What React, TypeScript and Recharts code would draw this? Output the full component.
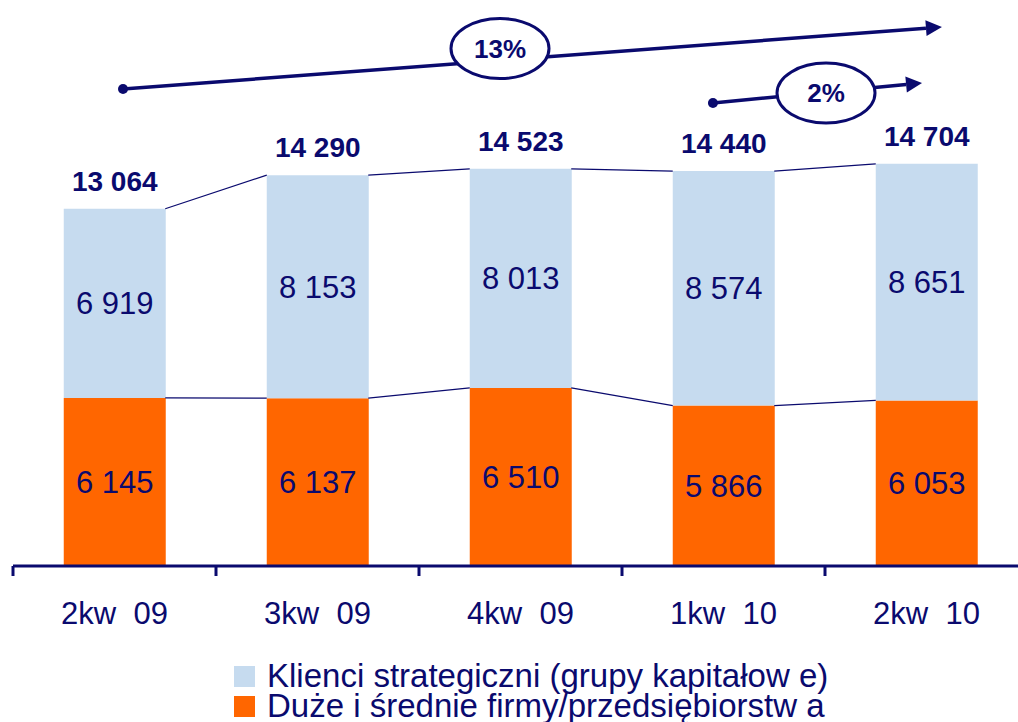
import React from 'react';
import {
  ComposedChart, Bar, Line, XAxis, YAxis, LabelList, Legend, ReferenceLine, ReferenceDot,
} from 'recharts';

// kwartały
const categories = ['2kw  09', '3kw  09', '4kw  09', '1kw  10', '2kw  10'];
// Duże i średnie firmy/przedsiębiorstwa
const duze = [6145, 6137, 6510, 5866, 6053];
// Klienci strategiczni (grupy kapitałowe)
const klienci = [6919, 8153, 8013, 8574, 8651];

const seriesNames = ['Klienci strategiczni (grupy kapitałow e)', 'Duże i średnie firmy/przedsiębiorstw a'];
const seriesColors = ['#C6DBEF', '#FF6600'];

// growth arrows: x in category units (0..5), y in chart values
const arrowLabels = ['13%', '2%'];
const arrowFrom = [[0.542, 17440], [3.448, 16930]];
const arrowTo = [[4.576, 19710], [4.478, 17660]];
const badgeAt = [[2.399, 18920], [4.005, 17290]];

const NAVY = '#0A0A6E';
const FONT = '"Liberation Sans", Arial, sans-serif';
const BAR_GAP = 0.25; // matches barCategoryGap 25%

const fmt = (v: any) => String(v).replace(/\B(?=(\d{3})+(?!\d))/g, ' ');

const data = categories.map((q, i) => ({
  q,
  duze: duze[i],
  klienci: klienci[i],
  total: duze[i] + klienci[i],
}));

// connector segments between neighbouring bars, broken by nulls
const connector = (vals: number[]) => {
  const pts: { x: number; v: number | null }[] = [];
  for (let i = 0; i < vals.length - 1; i++) {
    pts.push({ x: i + 1 - BAR_GAP, v: vals[i] });
    pts.push({ x: i + 1 + BAR_GAP, v: vals[i + 1] });
    pts.push({ x: i + 1.5, v: null });
  }
  return pts;
};
const topLine = connector(data.map((d) => d.total));
const midLine = connector(duze);

const axisTicks = Array.from({ length: categories.length * 2 + 1 }, (_, i) => i / 2);

const AxisTick = (props: any) => {
  const { x, y, payload } = props;
  const v = payload.value;
  if (Number.isInteger(v)) {
    return <line x1={x} x2={x} y1={y - 10} y2={y} stroke={NAVY} strokeWidth={3} />;
  }
  return (
    <text x={x} y={y + 48} textAnchor="middle" fontSize={31} fill={NAVY} style={{ whiteSpace: 'pre' }}>
      {categories[Math.floor(v)]}
    </text>
  );
};

const arrowShape = (p: any) => {
  const { x1, y1, x2, y2 } = p;
  const dx = x2 - x1;
  const dy = y2 - y1;
  const len = Math.hypot(dx, dy) || 1;
  const ux = dx / len;
  const uy = dy / len;
  const bx = x2 - ux * 16;
  const by = y2 - uy * 16;
  const hx = -uy * 8;
  const hy = ux * 8;
  return (
    <g>
      <line x1={x1} y1={y1} x2={bx} y2={by} stroke={NAVY} strokeWidth={3.5} />
      <circle cx={x1} cy={y1} r={5} fill={NAVY} />
      <polygon points={`${x2},${y2} ${bx + hx},${by + hy} ${bx - hx},${by - hy}`} fill={NAVY} />
    </g>
  );
};

const badgeShape = (label: string) => (p: any) => (
  <g>
    <ellipse cx={p.cx} cy={p.cy} rx={49} ry={30} fill="#fff" stroke={NAVY} strokeWidth={3} />
    <text x={p.cx} y={p.cy + 9} textAnchor="middle" fontSize={26} fontWeight="bold" fill={NAVY}>
      {label}
    </text>
  </g>
);

const LegendBox = () => (
  <div style={{ fontFamily: FONT, color: NAVY, fontSize: 33, lineHeight: '30px' }}>
    {seriesNames.map((n, i) => (
      <div key={n} style={{ display: 'flex', alignItems: 'center', height: 30, whiteSpace: 'pre' }}>
        <span style={{ width: 21, height: 21, background: seriesColors[i], marginRight: 12, flex: 'none' }} />
        <span>{n}</span>
      </div>
    ))}
  </div>
);

export default function App() {
  return (
    <div style={{ position: 'fixed', left: 0, top: 0, width: 1018, height: 722, overflow: 'hidden', background: '#fff', fontFamily: FONT }}>
      <ComposedChart
        width={1040}
        height={722}
        data={data}
        margin={{ top: 19, right: 12, bottom: 96, left: 13 }}
        barCategoryGap="25%"
      >
        <XAxis xAxisId="cat" dataKey="q" type="category" hide height={0} />
        <XAxis
          xAxisId="n"
          dataKey="x"
          type="number"
          domain={[0, categories.length]}
          ticks={axisTicks}
          interval={0}
          height={60}
          tickSize={10}
          tickMargin={0}
          tickLine={false}
          axisLine={{ stroke: NAVY, strokeWidth: 3 }}
          tick={<AxisTick />}
        />
        <YAxis hide domain={[0, 20000]} />
        <Bar xAxisId="cat" dataKey="duze" stackId="a" fill={seriesColors[1]} isAnimationActive={false}>
          <LabelList dataKey="duze" position="center" formatter={fmt} fill={NAVY} fontSize={31} />
        </Bar>
        <Bar xAxisId="cat" dataKey="klienci" stackId="a" fill={seriesColors[0]} isAnimationActive={false}>
          <LabelList dataKey="klienci" position="center" formatter={fmt} fill={NAVY} fontSize={31} />
          <LabelList dataKey="total" position="top" offset={18} formatter={fmt} fill={NAVY} fontSize={28} fontWeight="bold" />
        </Bar>
        <Line xAxisId="n" data={topLine} dataKey="v" stroke={NAVY} strokeWidth={1.2} dot={false} activeDot={false} legendType="none" isAnimationActive={false} />
        <Line xAxisId="n" data={midLine} dataKey="v" stroke={NAVY} strokeWidth={1.2} dot={false} activeDot={false} legendType="none" isAnimationActive={false} />
        {arrowLabels.map((l, i) => (
          <ReferenceLine
            key={'a' + l}
            xAxisId="n"
            ifOverflow="visible"
            segment={[{ x: arrowFrom[i][0], y: arrowFrom[i][1] }, { x: arrowTo[i][0], y: arrowTo[i][1] }]}
            shape={arrowShape}
          />
        ))}
        {arrowLabels.map((l, i) => (
          <ReferenceDot
            key={'b' + l}
            xAxisId="n"
            ifOverflow="visible"
            x={badgeAt[i][0]}
            y={badgeAt[i][1]}
            r={30}
            shape={badgeShape(l)}
          />
        ))}
        <Legend
          verticalAlign="middle"
          align="center"
          layout="horizontal"
          wrapperStyle={{ top: 661, left: 234, width: 700, height: 60 }}
          content={() => <LegendBox />}
        />
      </ComposedChart>
    </div>
  );
}
